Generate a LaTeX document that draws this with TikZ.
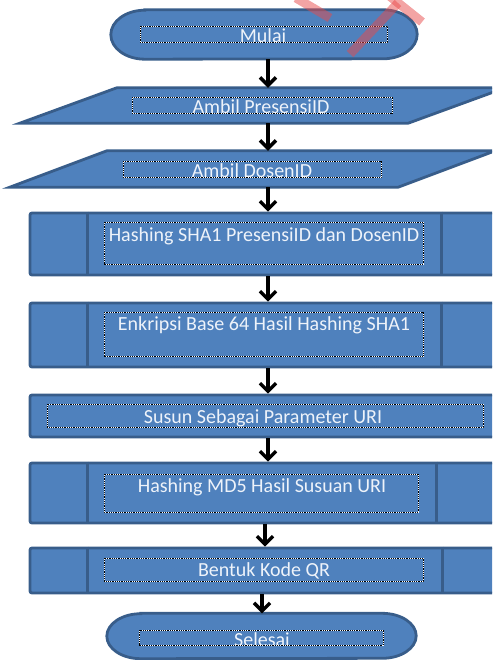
\documentclass[tikz,border=0pt]{standalone}
\usepackage{fontspec}
\setmainfont{Carlito}
\usetikzlibrary{arrows.meta}
\definecolor{boxfill}{HTML}{4F81BD}
\definecolor{boxline}{HTML}{385D8A}
\definecolor{labelwhite}{HTML}{EEF3FA}
\definecolor{stampred}{HTML}{E84A4A}

\begin{document}
\begin{tikzpicture}[x=1pt, y=-1pt,
  flowbase/.style={fill=boxfill, draw=boxline, line width=2.8pt, inner sep=0pt},
  process/.style={flowbase, rectangle, rounded corners=2pt},
  divider/.style={draw=boxline, line width=2.8pt},
  anchorbox/.style={rectangle, inner sep=0pt, draw=none},
  dotbox/.style={draw=black, line width=0.9pt, dash pattern=on 0.9pt off 0.9pt,
    preaction={draw=white, line width=0.9pt}},
  caption/.style={anchor=base, inner sep=0pt, text=labelwhite,
    font=\fontsize{20}{24}\selectfont},
  flowarrow/.style={draw=black, line width=3.4pt,
    -{Straight Barb[length=8pt, width=16pt, line width=3.4pt]}},
  stamp/.style={draw=stampred, line width=9pt, opacity=0.5}]

\useasboundingbox (0,0) rectangle (492,660);
\clip (0,0) rectangle (492,660);

% columns used by the connectors
\coordinate (spine) at (268,0);
\coordinate (spineb) at (265,0);
\coordinate (spinec) at (262,0);

% start terminal: straight sides with half-ellipse ends
\node[anchorbox, minimum width=306pt, minimum height=49pt] (start) at (264,34.5) {};
\draw[flowbase] ([xshift=34pt]start.north west) -- ([xshift=-34pt]start.north east)
  arc[start angle=90, end angle=-90, x radius=34pt, y radius=24.5pt]
  -- ([xshift=34pt]start.south west)
  arc[start angle=270, end angle=90, x radius=34pt, y radius=24.5pt] -- cycle;

% input: PresensiID
\node[anchorbox, minimum width=388pt, minimum height=35pt] (in1) at (262.5,105.5) {};
\draw[flowbase] ([xshift=48.5pt]in1.north west) -- ([xshift=48.5pt]in1.north east)
  -- ([xshift=-48.5pt]in1.south east) -- ([xshift=-48.5pt]in1.south west) -- cycle;

% input: DosenID
\node[anchorbox, minimum width=388pt, minimum height=36pt] (in2) at (252.5,169) {};
\draw[flowbase] ([xshift=48.5pt]in2.north west) -- ([xshift=48.5pt]in2.north east)
  -- ([xshift=-48.5pt]in2.south east) -- ([xshift=-48.5pt]in2.south west) -- cycle;

% predefined processes
\node[process, minimum width=470pt, minimum height=62pt] (sha) at (265,244) {};
\draw[divider] ([xshift=59pt]sha.north west) -- ([xshift=59pt]sha.south west);
\draw[divider] ([xshift=-60pt]sha.north east) -- ([xshift=-60pt]sha.south east);

\node[process, minimum width=470pt, minimum height=64pt] (b64) at (265,335) {};
\draw[divider] ([xshift=59pt]b64.north west) -- ([xshift=59pt]b64.south west);
\draw[divider] ([xshift=-60pt]b64.north east) -- ([xshift=-60pt]b64.south east);

% plain process
\node[process, minimum width=470pt, minimum height=42pt] (uri) at (265,416) {};

\node[process, minimum width=470pt, minimum height=60pt] (md5) at (265,493) {};
\draw[divider] ([xshift=59pt]md5.north west) -- ([xshift=59pt]md5.south west);
\draw[divider] ([xshift=-65pt]md5.north east) -- ([xshift=-65pt]md5.south east);

\node[process, minimum width=470pt, minimum height=45pt] (qr) at (265,570.5) {};
\draw[divider] ([xshift=59pt]qr.north west) -- ([xshift=59pt]qr.south west);
\draw[divider] ([xshift=-59pt]qr.north east) -- ([xshift=-59pt]qr.south east);

% end terminal
\node[anchorbox, minimum width=309pt, minimum height=45pt] (stop) at (261.5,636) {};
\draw[flowbase] ([xshift=34pt]stop.north west) -- ([xshift=-34pt]stop.north east)
  arc[start angle=90, end angle=-90, x radius=34pt, y radius=22.5pt]
  -- ([xshift=34pt]stop.south west)
  arc[start angle=270, end angle=90, x radius=34pt, y radius=22.5pt] -- cycle;

% labels
\node[caption] (t-start) at (263,43) {Mulai};
\node[caption] (t-in1) at (261,114) {Ambil PresensiID};
\node[caption] (t-in2) at (252,178) {Ambil DosenID};
\node[caption] (t-sha) at (264,241) {Hashing SHA1 PresensiID dan DosenID};
\node[caption] (t-b64) at (264,330) {Enkripsi Base 64 Hasil Hashing SHA1};
\node[caption] (t-uri) at (263,423) {Susun Sebagai Parameter URI};
\node[caption] (t-md5) at (262,492) {Hashing MD5 Hasil Susuan URI};
\node[caption] (t-qr) at (264,576) {Bentuk Kode QR};
\node[caption] (t-stop) at (262,646) {Selesai};

% text frames
\draw[dotbox] (140,26) rectangle (387,42);
\draw[dotbox] (132,97) rectangle (392,113);
\draw[dotbox] (123,161) rectangle (381,177);
\draw[dotbox] (104,222) rectangle (423,264);
\draw[dotbox] (104,312) rectangle (423,356);
\draw[dotbox] (47,404) rectangle (483,427);
\draw[dotbox] (104,474) rectangle (418,512);
\draw[dotbox] (104,558) rectangle (423,581);
\draw[dotbox] (139,630) rectangle (383,645);

% connectors
\draw[flowarrow] (start.south -| spine) -- (in1.north -| spine);
\draw[flowarrow] (in1.south -| spine) -- (in2.north -| spine);
\draw[flowarrow] (in2.south -| spine) -- (sha.north -| spine);
\draw[flowarrow] (sha.south -| spine) -- (b64.north -| spine);
\draw[flowarrow] (b64.south -| spine) -- (uri.north -| spine);
\draw[flowarrow] (uri.south -| spine) -- (md5.north -| spine);
\draw[flowarrow] (md5.south -| spineb) -- (qr.north -| spineb);
\draw[flowarrow] (qr.south -| spinec) -- (stop.north -| spinec);

% red stamp strokes
\draw[stamp] (296,-2) -- (330,18);
\draw[stamp] (350,54) -- (398,3);
\draw[stamp] (382,-10) -- (422,22);
\end{tikzpicture}
\end{document}
